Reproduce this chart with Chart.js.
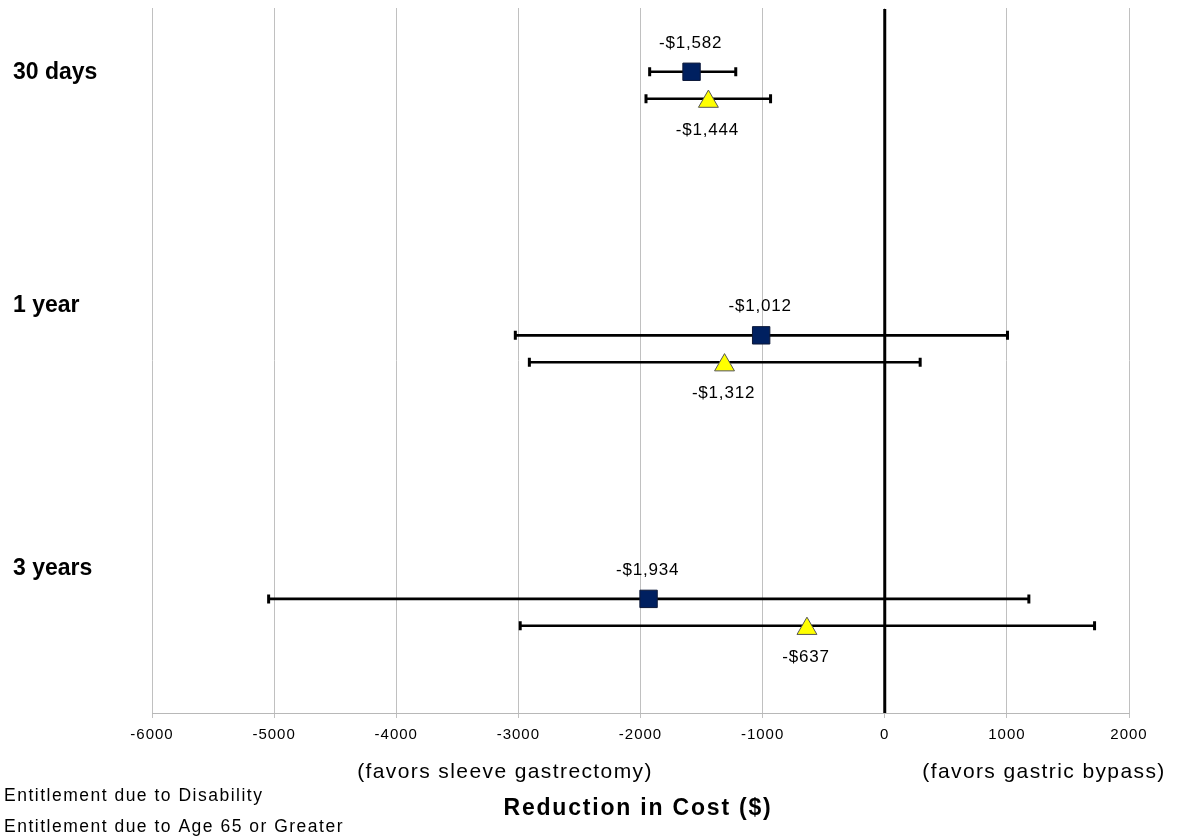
<!DOCTYPE html>
<html>
<head>
<meta charset="utf-8">
<script src="https://cdn.jsdelivr.net/npm/chart.js@4.4.1/dist/chart.umd.min.js"></script>
<style>
  html, body { margin: 0; padding: 0; background: #ffffff; }
  #wrap { width: 1184px; height: 838px; position: relative; }
</style>
</head>
<body>
<div id="wrap"><canvas id="grafico"></canvas></div>
<script>
// data
const categories = ["30 days", "1 year", "3 years"];
const seriesNames = ["Entitlement due to Disability", "Entitlement due to Age 65 or Greater"];
const disabilityCost = [-1582, -1012, -1934];
const disabilityLow = [-1925, -3025, -5045];
const disabilityHigh = [-1220, 1005, 1180];
const ageCost = [-1444, -1312, -637];
const ageLow = [-1955, -2910, -2985];
const ageHigh = [-935, 290, 1718];
const tickValues = [-6000, -5000, -4000, -3000, -2000, -1000, 0, 1000, 2000];
const sideNotes = ["(favors sleeve gastrectomy)", "(favors gastric bypass)"];
const axisTitle = "Reduction in Cost ($)";

const FONT = "'Liberation Sans', Arial, sans-serif";
const ctxGrafico = document.getElementById("grafico").getContext("2d");

function money(v) {
  return (v < 0 ? "-$" : "$") + Math.abs(v).toLocaleString("en-US");
}

function text(ctx, str, x, y, font, spacing, align) {
  ctx.save();
  ctx.font = font;
  ctx.letterSpacing = spacing + "px";
  ctx.fillStyle = "#000000";
  ctx.textAlign = align || "left";
  ctx.textBaseline = "alphabetic";
  ctx.fillText(str, x, y);
  ctx.restore();
}

const errorBars = {
  id: "errorBars",
  beforeDraw(chart) {
    // tick labels in the picture are a bit spread out
    chart.ctx.letterSpacing = "1px";
  },
  beforeDatasetsDraw(chart) {
    const { ctx, chartArea, scales } = chart;
    const x = scales.x;
    const ranges = [[disabilityLow, disabilityHigh], [ageLow, ageHigh]];
    ctx.save();
    ctx.strokeStyle = "#000000";
    const x0 = x.getPixelForValue(0);
    ctx.lineWidth = 3;
    ctx.beginPath();
    ctx.moveTo(x0, chartArea.top + 1);
    ctx.lineTo(x0, chartArea.bottom);
    ctx.stroke();

    chart.data.datasets.forEach((ds, d) => {
      chart.getDatasetMeta(d).data.forEach((pt, i) => {
        let yPx = pt.y;
        if (ds.pointStyle === "triangle") yPx -= ds.pointRadius / 4;
        const xa = x.getPixelForValue(ranges[d][0][i]);
        const xb = x.getPixelForValue(ranges[d][1][i]);
        ctx.lineWidth = 2.6;
        ctx.beginPath();
        ctx.moveTo(xa, yPx);
        ctx.lineTo(xb, yPx);
        ctx.stroke();
        ctx.lineWidth = 3;
        ctx.beginPath();
        ctx.moveTo(xa, yPx - 4.5);
        ctx.lineTo(xa, yPx + 4.5);
        ctx.moveTo(xb, yPx - 4.5);
        ctx.lineTo(xb, yPx + 4.5);
        ctx.stroke();
      });
    });
    ctx.restore();
  },
  afterDraw(chart) {
    const { ctx, chartArea, scales } = chart;
    const y = scales.y;

    // value labels: above the squares, below the triangles
    const costs = [disabilityCost, ageCost];
    chart.data.datasets.forEach((ds, d) => {
      chart.getDatasetMeta(d).data.forEach((pt, i) => {
        const yLab = ds.pointStyle === "triangle" ? pt.y + 33 : pt.y - 24;
        text(ctx, money(costs[d][i]), pt.x - 1, yLab, "17px " + FONT, 0.8, "center");
      });
    });

    // row names
    categories.forEach((c, i) => {
      const base = Math.max(y.getPixelForValue(i) - 37, chartArea.top + 71);
      text(ctx, c, 13, base, "bold 23px " + FONT, 0, "left");
    });

    text(ctx, sideNotes[0], 505, 778, "21px " + FONT, 1.4, "center");
    text(ctx, sideNotes[1], 1044, 778, "21px " + FONT, 1.4, "center");
    text(ctx, axisTitle, 638, 815, "bold 23px " + FONT, 1.8, "center");

    text(ctx, seriesNames[0], 4, 801, "17.5px " + FONT, 1.5, "left");
    text(ctx, seriesNames[1], 4, 832, "17.5px " + FONT, 1.5, "left");
  }
};

new Chart(ctxGrafico, {
  type: "scatter",
  data: {
    datasets: [
      {
        label: seriesNames[0],
        data: categories.map((c, i) => ({ x: disabilityCost[i], y: i - 0.051 })),
        pointStyle: "rect",
        pointRadius: 12.3,
        backgroundColor: "#002060",
        borderColor: "#0c1838",
        borderWidth: 1,
      },
      {
        label: seriesNames[1],
        data: categories.map((c, i) => ({ x: ageCost[i], y: i + 0.062 })),
        pointStyle: "triangle",
        pointRadius: 11.5,
        backgroundColor: "#ffff00",
        borderColor: "#555555",
        borderWidth: 1,
      },
    ],
  },
  options: {
    responsive: true,
    maintainAspectRatio: false,
    animation: false,
    layout: { autoPadding: false, padding: { left: 152, right: 55, top: 8, bottom: 0 } },
    plugins: {
      legend: { display: false },
      tooltip: { enabled: false },
    },
    scales: {
      x: {
        type: "linear",
        min: -6000,
        max: 2000,
        afterBuildTicks: (scale) => {
          scale.ticks = tickValues.map((v) => ({ value: v }));
        },
        afterFit: (scale) => {
          scale.height = 125;
        },
        ticks: {
          color: "#000000",
          font: { family: FONT, size: 15 },
          padding: 8,
          maxRotation: 0,
          callback: (v) => String(v),
        },
        grid: { color: "#c0c0c0", lineWidth: 1, tickLength: 5 },
        border: { color: "#b8b8b8" },
      },
      y: {
        type: "linear",
        display: false,
        reverse: true,
        min: -0.293,
        max: 2.382,
      },
    },
  },
  plugins: [errorBars],
});
</script>
</body>
</html>
